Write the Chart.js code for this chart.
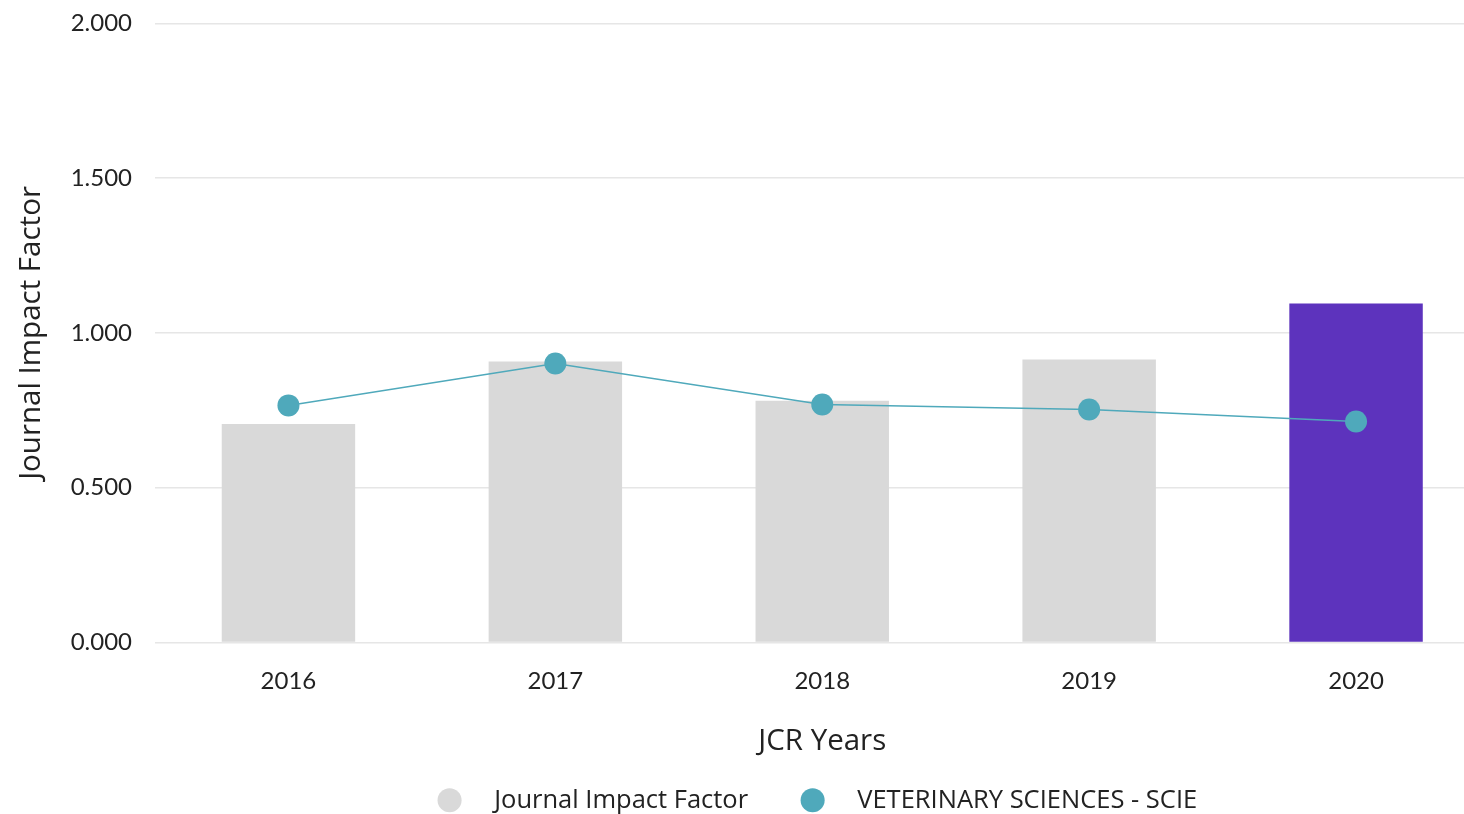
<!DOCTYPE html>
<html>
<head>
<meta charset="utf-8">
<script src="https://cdn.jsdelivr.net/npm/chart.js@4"></script>
<style>
  html,body{margin:0;padding:0;background:#fff;overflow:hidden}
  /* canvas is a bit bigger than the window: the plot runs past the right edge as in the original */
  #wrap{position:absolute;left:0;top:-14px;width:1634px;height:837px}
</style>
</head>
<body>
<div id="wrap"><canvas id="jif"></canvas></div>
<script>
  // data
  const years = ['2016', '2017', '2018', '2019', '2020'];
  const impactFactor = [0.706, 0.908, 0.781, 0.914, 1.095];
  const categoryMedian = [0.766, 0.901, 0.769, 0.753, 0.714];
  const yTicks = [0, 0.5, 1.0, 1.5, 2.0];

  const TICK_FONT = 'Lato, "Open Sans", sans-serif';
  const TEXT_FONT = '"Open Sans", Lato, sans-serif';
  const barColors = years.map((_, i) => i === years.length - 1 ? '#5d33bd' : '#d9d9d9');

  new Chart(document.getElementById('jif').getContext('2d'), {
    type: 'bar',
    data: {
      labels: years,
      datasets: [{
        label: 'Journal Impact Factor',
        data: impactFactor,
        backgroundColor: barColors,
        borderWidth: 0,
        barPercentage: 0.5,
        categoryPercentage: 1,
        order: 1
      }, {
        type: 'line',
        label: 'VETERINARY SCIENCES - SCIE',
        data: categoryMedian,
        borderColor: '#4fa9bb',
        backgroundColor: '#4fa9bb',
        pointBackgroundColor: '#4fa9bb',
        pointBorderWidth: 0,
        pointRadius: 11,
        borderWidth: 1.5,
        tension: 0,
        order: 0
      }]
    },
    options: {
      responsive: true,
      maintainAspectRatio: false,
      animation: false,
      devicePixelRatio: 1,
      layout: { autoPadding: false, padding: { left: 0, right: 0, top: 9, bottom: 0 } },
      plugins: {
        tooltip: { enabled: false },
        legend: {
          position: 'bottom',
          labels: {
            usePointStyle: true,
            pointStyle: 'circle',
            boxHeight: 17,
            padding: 5,
            color: '#222',
            font: { family: TEXT_FONT, size: 25.5 },
            sort: (a, b) => a.datasetIndex - b.datasetIndex,
            // widen the gap between the marker and its text, and between items
            generateLabels: chart => Chart.defaults.plugins.legend.labels.generateLabels(chart).map(item => {
              item.text = '\u2002\u2005' + item.text + (item.datasetIndex === 0 ? '\u2003\u2002\u2004' : '');
              return item;
            })
          }
        }
      },
      scales: {
        x: {
          afterFit: s => { s.height = 140; },
          grid: { display: false },
          border: { display: false },
          ticks: { color: '#222', padding: 16, font: { family: TICK_FONT, size: 24 } },
          title: { display: true, text: 'JCR Years', color: '#222', padding: { top: 10, bottom: 23 }, font: { family: TEXT_FONT, size: 29.5 } }
        },
        y: {
          min: 0,
          max: 2,
          afterBuildTicks: s => { s.ticks = yTicks.map(v => ({ value: v })); },
          afterFit: s => { s.width = 155; },
          grid: { color: '#e6e6e6', lineWidth: 1.5, drawTicks: false },
          border: { display: false },
          ticks: { color: '#222', padding: 23, font: { family: TICK_FONT, size: 24 }, callback: v => Number(v).toFixed(3) },
          title: { display: true, text: 'Journal Impact Factor', color: '#222', padding: { top: 14, bottom: 0 }, font: { family: TEXT_FONT, size: 29.5 } }
        },
        // empty right-hand axis, only reserves the space past the window edge
        yRight: {
          position: 'right',
          min: 0,
          max: 2,
          afterFit: s => { s.width = 144.5; },
          grid: { display: false, drawTicks: false },
          border: { display: false },
          ticks: { display: false }
        }
      }
    }
  });
</script>
</body>
</html>
